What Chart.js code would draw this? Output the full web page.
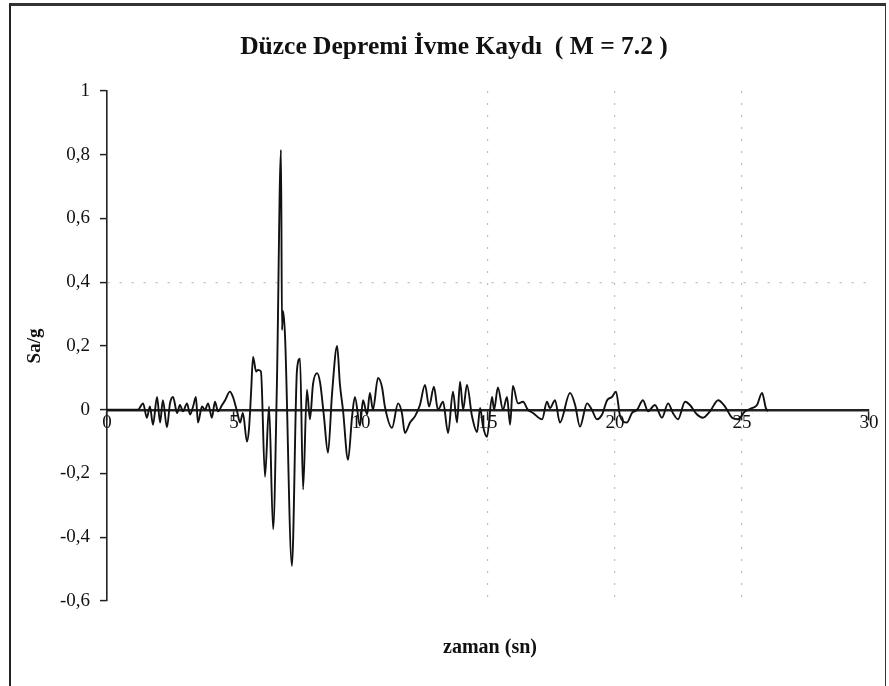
<!DOCTYPE html>
<html>
<head>
<meta charset="utf-8">
<script src="https://cdn.jsdelivr.net/npm/chart.js@4.4.1/dist/chart.umd.min.js"></script>
<style>
  html, body { margin: 0; padding: 0; background: #fff; overflow: hidden; }
  #wrap { position: relative; width: 889px; height: 686px; }
  #frame { position: absolute; left: 9px; top: 3px; width: 874px; height: 720px;
           border-left: 2px solid #222; border-top: 3px solid #333; border-right: 1px solid #333; }
  canvas { position: absolute; left: 0; top: 0; }
</style>
</head>
<body>
<div id="wrap">
  <div id="frame"></div>
  <canvas id="chart" width="889" height="686"></canvas>
</div>
<script>
// Düzce depremi ivme kaydı (time in s, Sa/g)
const times = [
  0, 1.22, 1.42, 1.57, 1.69, 1.81, 1.97, 2.09, 2.2, 2.36, 2.48, 2.6, 2.76, 2.87, 2.99,
  3.15, 3.27, 3.39, 3.5, 3.58, 3.74, 3.86, 3.98, 4.13, 4.25, 4.37, 4.53, 4.65, 4.84, 4.96,
  5.12, 5.24, 5.35, 5.51, 5.59, 5.67, 5.75, 5.87, 5.94, 6.06, 6.22, 6.38, 6.54, 6.69, 6.85,
  6.89, 6.93, 7.01, 7.28, 7.48, 7.6, 7.72, 7.87, 7.99, 8.11, 8.27, 8.39, 8.54, 8.7, 8.86,
  9.06, 9.17, 9.29, 9.49, 9.65, 9.76, 9.96, 10.08, 10.24, 10.35, 10.47, 10.67, 10.83, 10.94, 11.22,
  11.46, 11.61, 11.73, 11.93, 12.13, 12.32, 12.52, 12.68, 12.87, 13.03, 13.23, 13.43, 13.62, 13.78, 13.9,
  14.02, 14.17, 14.37, 14.57, 14.69, 14.8, 14.96, 15.16, 15.24, 15.39, 15.59, 15.75, 15.87, 15.98, 16.18,
  16.38, 16.57, 16.77, 17.13, 17.32, 17.44, 17.64, 17.83, 18.23, 18.43, 18.62, 18.9, 19.09, 19.29, 19.49,
  19.69, 19.88, 20.04, 20.2, 20.47, 20.67, 20.87, 21.1, 21.3, 21.57, 21.85, 22.09, 22.28, 22.48, 22.76,
  22.95, 23.23, 23.46, 23.74, 24.06, 24.33, 24.61, 24.84, 25.12, 25.39, 25.59, 25.79, 25.94, 26.02
];
const accel = [
  0, 0, 0.02, -0.025, 0.01, -0.047, 0.04, -0.04, 0.03, -0.055, 0.02, 0.04, -0.01, 0.015, -0.005,
  0.02, -0.015, 0.01, 0.04, -0.04, 0.01, 0, 0.02, -0.025, 0.025, -0.005, 0.015, 0.03, 0.057, 0.04,
  -0.005, -0.04, -0.01, -0.1, -0.06, 0.05, 0.166, 0.12, 0.125, 0.12, -0.21, 0.01, -0.375, 0.085, 0.815,
  0.25, 0.31, 0.23, -0.49, 0.125, 0.16, -0.25, 0.063, -0.03, 0.08, 0.115, 0.085, -0.02, -0.135, 0.05,
  0.2, 0.08, 0, -0.157, -0.02, 0.04, -0.05, 0.03, -0.015, 0.053, 0, 0.1, 0.07, 0.01, -0.057,
  0.02, -0.01, -0.073, -0.04, -0.02, 0.015, 0.078, 0.01, 0.072, 0, 0.025, -0.073, 0.057, -0.04, 0.088,
  0, 0.078, -0.02, -0.07, 0.006, -0.05, -0.085, 0.04, 0, 0.07, 0, 0.04, -0.047, 0.075, 0.02,
  0.025, 0, -0.01, -0.03, 0.025, 0.005, 0.03, -0.04, 0.053, 0.015, -0.053, 0.02, 0, -0.03, -0.015,
  0.03, 0.04, 0.057, -0.02, -0.04, -0.01, 0, 0.03, -0.005, 0.015, -0.025, 0.02, -0.01, -0.03, 0.025,
  0.015, -0.015, -0.025, -0.005, 0.03, 0.01, -0.025, -0.03, -0.005, 0.005, 0.015, 0.053, 0.005, -0.005
];
const xTicks = [0, 5, 10, 15, 20, 25, 30];
const yTicks = [-0.6, -0.4, -0.2, 0, 0.2, 0.4, 0.6, 0.8, 1];
const xGridShown = [15, 20, 25];   // only these dotted lines survive in the scan
const yGridShown = [0.4];

const chartTitle = 'Düzce Depremi İvme Kaydı  ( M = 7.2 )';
const xTitle = 'zaman (sn)';
const yTitle = 'Sa/g';

const serif = "'Liberation Serif', 'Times New Roman', serif";
const near = (list, v) => list.some(t => Math.abs(t - v) < 1e-6);

// title and x-axis caption drawn at fixed spots like the Excel original
const captions = {
  id: 'captions',
  afterDraw(chart) {
    const { ctx, chartArea } = chart;
    ctx.save();
    ctx.fillStyle = '#111';
    ctx.textAlign = 'center';
    ctx.textBaseline = 'middle';
    ctx.font = `bold 25.5px ${serif}`;
    ctx.fillText(chartTitle, 454, 47);
    ctx.font = `bold 20px ${serif}`;
    ctx.fillText(xTitle, (chartArea.left + chartArea.right) / 2 + 2, chartArea.bottom + 47);
    ctx.restore();
  }
};

new Chart(document.getElementById('chart'), {
  type: 'line',
  data: {
    datasets: [{
      data: times.map((t, i) => ({ x: t, y: accel[i] })),
      borderColor: '#111',
      borderWidth: 1.9,
      pointRadius: 0,
      cubicInterpolationMode: 'monotone',
    }],
  },
  options: {
    responsive: false,
    animation: false,
    events: [],
    layout: { padding: { left: 20, right: 20, top: 91, bottom: 85 } },
    plugins: { legend: { display: false }, tooltip: { enabled: false } },
    scales: {
      x: {
        type: 'linear',
        position: { y: 0 },
        min: 0, max: 30,
        afterBuildTicks: s => { s.ticks = xTicks.map(v => ({ value: v })); },
        ticks: { color: '#111', font: { family: serif, size: 19 }, padding: -7, maxRotation: 0 },
        grid: {
          color: c => (c.tick && near(xGridShown, c.tick.value)) ? '#bdbdbd' : 'transparent',
          lineWidth: 1.2,
          tickColor: '#222', tickLength: 9, tickWidth: 1.5,
        },
        border: { color: '#222', width: 2.4, dash: [2, 10] },
      },
      y: {
        min: -0.6, max: 1,
        afterBuildTicks: s => { s.ticks = yTicks.map(v => ({ value: v })); },
        afterFit: s => { s.width = 87; },
        ticks: {
          color: '#111', font: { family: serif, size: 19 }, padding: 10,
          callback: v => String(Math.round(v * 10) / 10).replace('.', ','),
        },
        grid: {
          color: c => (c.tick && near(yGridShown, c.tick.value)) ? '#bdbdbd' : 'transparent',
          lineWidth: 1.2,
          tickColor: '#222', tickLength: 7, tickWidth: 1.5,
        },
        border: { color: '#222', width: 1.6, dash: [2, 10] },
        title: { display: true, text: yTitle, color: '#111', font: { family: serif, size: 19, weight: 'bold' }, padding: { top: 4, bottom: 0 } },
      },
    },
  },
  plugins: [captions],
});
</script>
</body>
</html>
